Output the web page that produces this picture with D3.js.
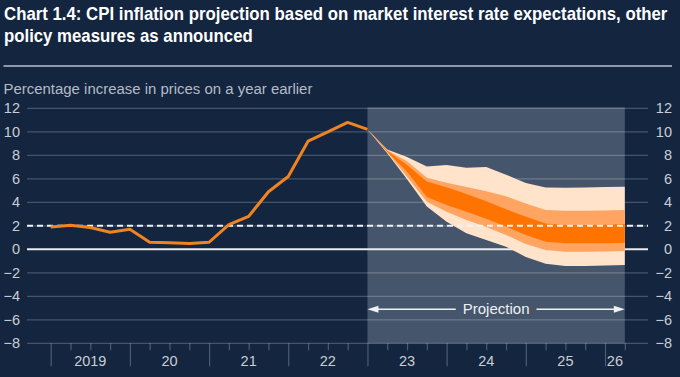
<!DOCTYPE html>
<html>
<head>
<meta charset="utf-8">
<script src="https://cdn.jsdelivr.net/npm/d3@7"></script>
<style>
  body { margin: 0; background: #13253f; }
  svg { display: block; font-family: "Liberation Sans", Arial, sans-serif; }
</style>
</head>
<body>
<svg id="chart" width="680" height="377"></svg>
<script>
// CPI outturns, quarterly from 2019 Q1 to 2023 Q1
const histStart = 2019;
const histValues = [1.9, 2.05, 1.85, 1.45, 1.7, 0.6, 0.55, 0.5, 0.6, 2.1, 2.8, 4.9, 6.2, 9.2, 10.0, 10.8, 10.2];

// fan chart bands, quarterly from 2023 Q1
const fanStart = 2023;
const lightTop = [10.2, 8.5, 7.85, 7.05, 7.17, 6.95, 7.0, 6.35, 5.65, 5.27, 5.24, 5.27, 5.3, 5.33];
const medTop   = [10.2, 8.42, 7.5, 6.1, 5.67, 5.3, 4.95, 4.52, 3.9, 3.35, 3.29, 3.29, 3.3, 3.35];
const darkTop  = [10.2, 8.38, 7.17, 5.76, 5.28, 4.7, 4.1, 3.4, 2.78, 2.2, 2.07, 2.07, 2.08, 2.15];
const darkBot  = [10.2, 8.3, 6.6, 4.45, 3.77, 3.2, 2.6, 1.93, 1.22, 0.65, 0.51, 0.51, 0.52, 0.56];
const medBot   = [10.2, 8.25, 6.18, 4.05, 3.2, 2.49, 1.9, 1.22, 0.45, -0.06, -0.2, -0.2, -0.18, -0.14];
const lightBot = [10.2, 8.17, 5.96, 3.65, 2.35, 1.36, 0.79, 0.22, -0.65, -1.22, -1.42, -1.42, -1.37, -1.33];

const yTicks = [-8, -6, -4, -2, 0, 2, 4, 6, 8, 10, 12];
const yearTicks = [2019, 2020, 2021, 2022, 2023, 2024, 2025, 2026];
const yearLabels = ["2019", "20", "21", "22", "23", "24", "25", "26"];
const xEnd = 2026.25;
const target = 2;

const titleLines = [
  "Chart 1.4: CPI inflation projection based on market interest rate expectations, other",
  "policy measures as announced"
];
const subtitle = "Percentage increase in prices on a year earlier";
const projLabel = "Projection";

const svg = d3.select("#chart");
const W = 680, H = 377;
const gridX0 = 27, gridX1 = 648;

const x = d3.scaleLinear().domain([histStart, xEnd]).range([50.7, 624.8]);
const y = d3.scaleLinear().domain([-8, 12]).range([343.3, 108.3]);

svg.append("rect").attr("width", W).attr("height", H).attr("fill", "#13253f");

// squeeze a text horizontally so it spans the given width
function fitText(sel, tx, ty, width) {
  const len = sel.node().getComputedTextLength();
  sel.attr("transform", `translate(${tx},${ty}) scale(${width / len},1)`);
}

// title
const t1 = svg.append("text")
  .attr("fill", "#ffffff").attr("font-weight", "bold").attr("font-size", 17.5)
  .text(titleLines[0]);
fitText(t1, 4, 20, 664);
const t2 = svg.append("text")
  .attr("fill", "#ffffff").attr("font-weight", "bold").attr("font-size", 17.5)
  .text(titleLines[1]);
fitText(t2, 4, 42, 249);

svg.append("line").attr("x1", 3.5).attr("x2", 672).attr("y1", 66).attr("y2", 66)
  .attr("stroke", "#b9c0ca").attr("stroke-width", 1.5);

const st = svg.append("text")
  .attr("fill", "#b4bbc6").attr("font-size", 14.5)
  .text(subtitle);
fitText(st, 3.5, 94, 309);

// projection shading
svg.append("rect")
  .attr("x", x(fanStart)).attr("width", x(xEnd) - x(fanStart))
  .attr("y", y(12) - 1).attr("height", y(-8) - y(12) + 1)
  .attr("fill", "#45556b");

// gridlines
svg.append("g").selectAll("line")
  .data(yTicks.filter(d => d !== 0))
  .join("line")
  .attr("x1", gridX0).attr("x2", gridX1)
  .attr("y1", d => y(d)).attr("y2", d => y(d))
  .attr("stroke", "rgba(255,255,255,0.22)").attr("stroke-width", 1.2);

svg.append("line").attr("x1", gridX0).attr("x2", gridX1)
  .attr("y1", y(0)).attr("y2", y(0))
  .attr("stroke", "#e8ebef").attr("stroke-width", 2);

// fan
const fanX = (d, i) => x(fanStart + i / 4);
const band = (lo, hi) => d3.area().x(fanX).y0((d, i) => y(lo[i])).y1((d, i) => y(hi[i]));
const bands = [
  { lo: lightBot, hi: lightTop, color: "#ffe3cb" },
  { lo: medBot, hi: medTop, color: "#ffa461" },
  { lo: darkBot, hi: darkTop, color: "#ff7400" }
];
bands.forEach(b => {
  svg.append("path").datum(b.lo).attr("d", band(b.lo, b.hi)).attr("fill", b.color);
});

// target line
svg.append("line").attr("x1", gridX0).attr("x2", gridX1)
  .attr("y1", y(target)).attr("y2", y(target))
  .attr("stroke", "#f0f2f5").attr("stroke-width", 2).attr("stroke-dasharray", "6,4");

// outturn line
const line = d3.line().x((d, i) => x(histStart + i / 4)).y(d => y(d));
svg.append("path").datum(histValues).attr("d", line)
  .attr("fill", "none").attr("stroke", "#f08421").attr("stroke-width", 3)
  .attr("stroke-linejoin", "round");

// x axis
const quarters = d3.range(histStart, xEnd + 0.01, 0.25);
const xAxis = svg.append("g").attr("transform", `translate(0,${y(-8)})`)
  .call(d3.axisBottom(x).tickValues(quarters).tickSize(7).tickFormat(""));
xAxis.select(".domain").remove();
xAxis.selectAll(".tick line")
  .attr("stroke", "rgba(255,255,255,0.25)").attr("stroke-width", 1.2)
  .attr("y2", d => yearTicks.includes(d) ? 23 : 7);

svg.append("g").selectAll("text")
  .data(yearTicks)
  .join("text")
  .attr("x", d => x((d + Math.min(d + 1, xEnd)) / 2))
  .attr("y", 366)
  .attr("text-anchor", "middle")
  .attr("fill", "#c9ced6").attr("font-size", 14.5)
  .text((d, i) => yearLabels[i]);

// y axes
const leftAxis = svg.append("g").attr("transform", "translate(20,0)")
  .call(d3.axisLeft(y).tickValues(yTicks).tickSize(0).tickPadding(0));
const rightAxis = svg.append("g").attr("transform", "translate(672,0)")
  .call(d3.axisRight(y).tickValues(yTicks).tickSize(0).tickPadding(0));
[leftAxis, rightAxis].forEach(a => {
  a.select(".domain").remove();
  a.selectAll("text").attr("fill", "#c9ced6").attr("font-size", 14.5)
    .attr("font-family", "Liberation Sans, Arial, sans-serif");
});
rightAxis.selectAll("text").attr("text-anchor", "end").attr("x", 0);

// projection arrow
const arrowY = y(-5.1);
const px0 = x(fanStart), px1 = x(xEnd), pmid = (px0 + px1) / 2;
const label = svg.append("text").attr("x", pmid).attr("y", arrowY + 5)
  .attr("text-anchor", "middle").attr("fill", "#eef0f3").attr("font-size", 15)
  .text(projLabel);
const half = label.node().getComputedTextLength() / 2 + 7;
const arrowColor = "#eef0f3";
svg.append("line").attr("x1", px0 + 8).attr("x2", pmid - half)
  .attr("y1", arrowY).attr("y2", arrowY).attr("stroke", arrowColor).attr("stroke-width", 1.5);
svg.append("line").attr("x1", pmid + half).attr("x2", px1 - 8)
  .attr("y1", arrowY).attr("y2", arrowY).attr("stroke", arrowColor).attr("stroke-width", 1.5);
svg.append("path")
  .attr("d", `M${px0},${arrowY}L${px0 + 11},${arrowY - 3.5}L${px0 + 11},${arrowY + 3.5}Z`)
  .attr("fill", arrowColor);
svg.append("path")
  .attr("d", `M${px1},${arrowY}L${px1 - 11},${arrowY - 3.5}L${px1 - 11},${arrowY + 3.5}Z`)
  .attr("fill", arrowColor);
</script>
</body>
</html>
